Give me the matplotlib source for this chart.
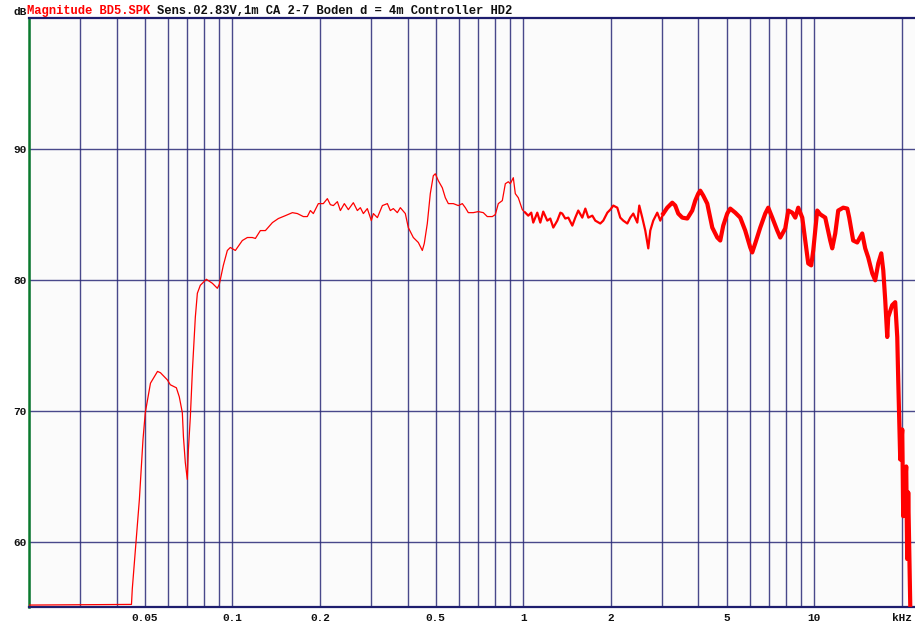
import matplotlib
matplotlib.use('Agg')  # no display in the sandbox

import matplotlib.pyplot as plt
import numpy as np

# frequency response (kHz, dB)
freq_khz = [
    0.020, 0.0450, 0.0453, 0.0479, 0.0493, 0.0502, 0.0523, 0.0553, 0.0566, 0.0598,
    0.0612, 0.0642, 0.0657, 0.0673, 0.0679, 0.0689, 0.0700, 0.0706, 0.0717, 0.0729,
    0.0746, 0.0758, 0.0776, 0.0814, 0.0854, 0.0888, 0.0902, 0.0931, 0.0961, 0.0984,
    0.1024, 0.1082, 0.1126, 0.1171, 0.1200, 0.1248, 0.1299, 0.1373, 0.1439, 0.1521,
    0.1608, 0.1673, 0.1754, 0.1810, 0.1854, 0.1898, 0.1975, 0.2054, 0.2121, 0.2172,
    0.2224, 0.2296, 0.2351, 0.2426, 0.2504, 0.2605, 0.2689, 0.2754, 0.2820, 0.2910,
    0.3004, 0.3052, 0.3151, 0.3278, 0.3410, 0.3491, 0.3575, 0.3690, 0.3779, 0.3931,
    0.4025, 0.4188, 0.4357, 0.4497, 0.4568, 0.4678, 0.4790, 0.4906, 0.4984, 0.5104,
    0.5268, 0.5395, 0.5525, 0.5748, 0.5979, 0.6172, 0.6320, 0.6471, 0.6732, 0.7004,
    0.7286, 0.7520, 0.7825, 0.8013, 0.8205, 0.8470, 0.8674, 0.8882, 0.9023, 0.9240,
    0.9387, 0.9612, 0.9922, 1.016, 1.040, 1.065, 1.082, 1.117, 1.144, 1.171,
    1.209, 1.238, 1.268, 1.309, 1.341, 1.361, 1.394, 1.428, 1.474, 1.509,
    1.545, 1.595, 1.634, 1.673, 1.727, 1.768, 1.839, 1.883, 1.945, 1.991,
    2.039, 2.104, 2.154, 2.206, 2.278, 2.332, 2.388, 2.465, 2.504, 2.564,
    2.626, 2.689, 2.732, 2.797, 2.887, 2.957, 3.028, 3.125, 3.251, 3.329,
    3.409, 3.519, 3.661, 3.808, 3.900, 3.993, 4.057, 4.155, 4.289, 4.462,
    4.642, 4.753, 4.867, 5.023, 5.144, 5.351, 5.567, 5.792, 6.026, 6.121,
    6.269, 6.523, 6.786, 6.949, 7.173, 7.463, 7.642, 7.950, 8.143, 8.404,
    8.606, 8.811, 9.096, 9.314, 9.537, 9.765, 9.922, 10.24, 10.49, 10.91,
    11.35, 11.53, 11.81, 12.09, 12.58, 12.99, 13.19, 13.61, 14.05, 14.62,
    14.97, 15.33, 15.83, 16.20, 16.60, 17.00, 17.27, 17.54, 17.82, 17.96,
    18.53, 18.98, 19.29, 19.44, 19.75, 20.07, 20.22, 20.71, 20.87, 21.04,
    21.38,
]
level_db = [
    55.15, 55.2, 56.4, 63.2, 67.8, 69.85, 72.1, 73.0, 72.9, 72.35,
    71.98, 71.75, 71.06, 69.85, 68.0, 66.05, 64.75, 67.0, 69.5, 73.1,
    77.15, 78.97, 79.58, 80.04, 79.73, 79.35, 79.66, 81.1, 82.24, 82.47,
    82.24, 83.0, 83.23, 83.23, 83.16, 83.76, 83.76, 84.37, 84.68, 84.9,
    85.13, 85.06, 84.83, 84.83, 85.29, 85.06, 85.82, 85.82, 86.2, 85.74,
    85.67, 85.97, 85.29, 85.82, 85.36, 85.89, 85.29, 85.51, 85.06, 85.44,
    84.52, 85.06, 84.75, 85.67, 85.82, 85.29, 85.44, 85.13, 85.51, 85.06,
    83.99, 83.23, 82.85, 82.24, 82.78, 84.3, 86.58, 87.95, 88.1, 87.57,
    87.03, 86.27, 85.82, 85.82, 85.67, 85.82, 85.51, 85.13, 85.13, 85.21,
    85.13, 84.83, 84.83, 84.98, 85.82, 86.05, 87.34, 87.49, 87.34, 87.8,
    86.58, 86.27, 85.36, 85.13, 84.9, 85.13, 84.37, 85.13, 84.37, 85.21,
    84.52, 84.68, 83.99, 84.52, 85.13, 85.06, 84.68, 84.75, 84.14, 84.75,
    85.29, 84.75, 85.44, 84.75, 84.9, 84.52, 84.3, 84.52, 85.13, 85.36,
    85.67, 85.51, 84.75, 84.52, 84.3, 84.75, 85.06, 84.37, 85.67, 84.75,
    83.76, 82.4, 83.76, 84.52, 85.13, 84.52, 85.06, 85.51, 85.89, 85.67,
    85.06, 84.75, 84.68, 85.29, 86.05, 86.58, 86.81, 86.43, 85.82, 83.99,
    83.23, 83.0, 84.14, 85.06, 85.44, 85.13, 84.75, 83.76, 82.47, 82.09,
    82.78, 83.99, 85.06, 85.51, 84.75, 83.76, 83.23, 83.92, 85.29, 85.13,
    84.75, 85.51, 84.75, 83.0, 81.25, 81.1, 82.24, 85.29, 85.0, 84.75,
    83.0, 82.4, 83.54, 85.29, 85.51, 85.44, 84.75, 83.0, 82.85, 83.54,
    82.4, 81.71, 80.49, 79.96, 81.25, 82.02, 80.72, 78.44, 75.63, 77.15,
    78.06, 78.29, 75.63, 72.36, 66.27, 68.56, 61.94, 65.74, 58.67, 63.76,
    55.17,
]

x_ticks = [0.05, 0.1, 0.2, 0.5, 1, 2, 5, 10, 20]
x_tick_labels = ['0.05', '0.1', '0.2', '0.5', '1', '2', '5', '10', 'kHz']
y_ticks = [60, 70, 80, 90]

grid_col = '#2a2a78'
mono = 'Liberation Mono'

fig = plt.figure(figsize=(9.15, 6.21), dpi=100)
ax = fig.add_axes([0.0317, 0.0225, 0.9683, 0.9485])
ax.set_facecolor('#fbfbfb')
ax.set_xscale('log')
ax.set_xlim(0.020, 22.2)
ax.set_ylim(55, 100)

# grid: every 1..9 per decade from 20 Hz to 20 kHz
grid_freqs = [m * 10.0 ** e for e in (-2, -1, 0, 1) for m in range(1, 10)]
grid_freqs = [g for g in grid_freqs if 0.02 <= g <= 20.0001]
for g in grid_freqs:
    ax.axvline(g, color=grid_col, lw=1.0, alpha=0.85, zorder=1)
for v in y_ticks:
    ax.axhline(v, color=grid_col, lw=1.0, alpha=0.85, zorder=1)

# the measured curve gets thicker where the trace is noisy
f = np.array(freq_khz)
d = np.array(level_db)
i1 = np.searchsorted(f, 1.0)
i3 = np.searchsorted(f, 3.0)
ax.plot(f[:i1 + 1], d[:i1 + 1], color='#ff0000', lw=0.9, zorder=3)
ax.plot(f[i1:i3 + 1], d[i1:i3 + 1], color='#ff0000', lw=1.6, zorder=3)
ax.plot(f[i3:], d[i3:], color='#ff0000', lw=3.0, zorder=3)

ax.set_xticks(x_ticks)
ax.set_xticklabels(x_tick_labels)
ax.xaxis.set_minor_locator(matplotlib.ticker.NullLocator())
ax.set_yticks(y_ticks)
ax.set_yticklabels([str(v) for v in y_ticks])
ax.tick_params(length=0, labelsize=8, colors='#111111')
ax.tick_params(axis='x', pad=4)
ax.tick_params(axis='y', pad=2)
for lab in ax.get_xticklabels() + ax.get_yticklabels():
    lab.set_fontfamily(mono)
    lab.set_fontweight('bold')

for side in ('top', 'bottom'):
    ax.spines[side].set_color('#1e1e6e')
    ax.spines[side].set_linewidth(1.6)
ax.spines['left'].set_color('#0b7a2e')
ax.spines['left'].set_linewidth(1.8)
ax.spines['right'].set_visible(False)

fig.text(0.0295, 0.9775, 'Magnitude BD5.SPK', color='#ff0000', fontsize=8.7,
         fontfamily=mono, fontweight='bold', va='baseline', ha='left')
fig.text(0.1716, 0.9775, 'Sens.02.83V,1m CA 2-7 Boden d = 4m Controller HD2',
         color='#111111', fontsize=8.7, fontfamily=mono, fontweight='bold',
         va='baseline', ha='left')
fig.text(0.0295, 0.9807, 'dB', color='#111111', fontsize=8, fontfamily=mono,
         fontweight='bold', va='center', ha='right')

plt.savefig('out.png', dpi=100)
plt.close(fig)
